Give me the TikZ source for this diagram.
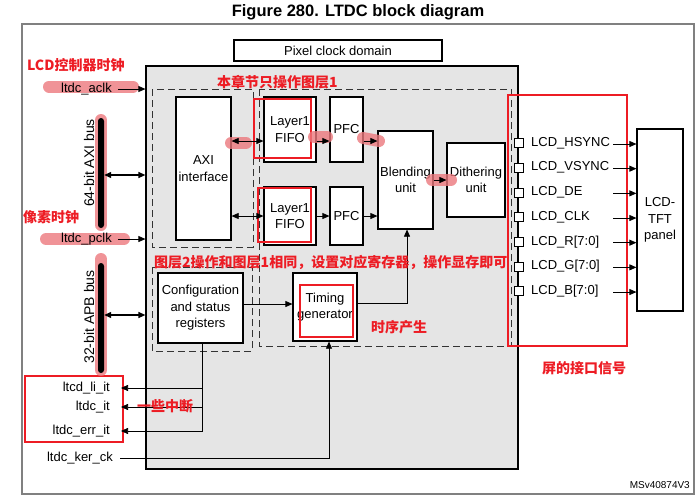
\documentclass[tikz,border=0pt]{standalone}
\usepackage{fontspec}
\setmainfont{Liberation Sans}
\newfontfamily\cjk{Noto Sans CJK SC}
\usetikzlibrary{arrows.meta}
\definecolor{redmark}{RGB}{237,28,36}
\definecolor{pinkmark}{RGB}{236,120,125}
\definecolor{blockgray}{RGB}{229,229,229}
\tikzset{
    blk/.style={draw, fill=white, line width=1.2pt, align=center, inner sep=0pt,
        font=\fontsize{13}{16.5}\selectfont},
    txt/.style={inner sep=0pt, font=\fontsize{13}{16}\selectfont},
    arr/.style={-{Triangle[length=7pt,width=6pt]}, line width=0.7pt},
    darr/.style={{Triangle[length=7pt,width=6pt]}-{Triangle[length=7pt,width=6pt]}, line width=0.7pt},
    dsh/.style={draw=black!80, dash pattern=on 7pt off 4pt, line width=1pt},
    redbox/.style={draw=redmark, line width=2.5pt},
    redtxt/.style={text=redmark, inner sep=0pt, font=\cjk\bfseries\fontsize{14}{16}\selectfont},
    hl/.style={draw=pinkmark, line width=12pt, line cap=round, opacity=0.8},
}

\begin{document}
\begin{tikzpicture}[x=1pt,y=-1pt]
    \useasboundingbox (0,0) rectangle (698,498);

    % 外枠とタイトル
    \draw [gray, line width=1.3pt] (22,24) rectangle (694,494);
    \node [font=\bfseries\fontsize{16.5}{18}\selectfont] (title) at (358,12) {Figure 280. LTDC block diagram};

    % LTDC本体
    \node [draw, fill=blockgray, line width=1.2pt, minimum width=372, minimum height=403, inner sep=0pt] (ltdc) at (332,267.5) {};
    \node [blk, minimum width=208, minimum height=21] (pixdom) at (338,50.5) {Pixel clock domain};

    % 点線の領域
    \draw [dsh] (152,89) rectangle (253,247);
    \draw [dsh] (152,267) rectangle (252,351);
    \draw [dsh] (259,89) rectangle (511,346);

    % ブロック
    \node [blk, minimum width=55, minimum height=143] (axi) at (203.5,168.5) {AXI\\interface};
    \node [blk, minimum width=52, minimum height=65] (fifoA) at (290,129.5) {Layer1\\FIFO};
    \node [blk, minimum width=52, minimum height=58] (fifoB) at (290,216) {Layer1\\FIFO};
    \node [blk, minimum width=33, minimum height=65] (pfcA) at (346.5,129.5) {PFC};
    \node [blk, minimum width=33, minimum height=58] (pfcB) at (346.5,216) {PFC};
    \node [blk, minimum width=55, minimum height=98] (blend) at (405.5,180) {Blending\\unit};
    \node [blk, minimum width=58, minimum height=74] (dither) at (476,180) {Dithering\\unit};
    \node [blk, minimum width=85, minimum height=70] (config) at (200.5,308) {Configuration\\and status\\registers};
    \node [blk, minimum width=64, minimum height=68] (timing) at (325,307) {Timing\\generator};
    \node [blk, minimum width=46, minimum height=182] (panel) at (660,220) {LCD-\\TFT\\panel};

    % 赤枠
    \draw [redbox] (254,99) rectangle (311,158);
    \draw [redbox] (258,188) rectangle (311,242);
    \draw [redbox] (300,285) rectangle (353,337);
    \draw [redbox] (508,95) rectangle (627,346);
    \draw [redbox] (25,376) rectangle (123,442);

    % ハイライト
    \draw [hl] (49,86.5) -- (133,86.5);
    \draw [hl] (46,239) -- (124,239);
    \draw [hl] (101,120) -- (101,225);
    \draw [hl] (101,259) -- (101,370);
    \draw [hl] (231,143) -- (246,143);
    \draw [hl] (314,137) -- (327,137);
    \draw [hl] (363,138) -- (379,141);
    \draw [hl] (432,180) -- (451,180);

    % バス
    \node [fill=black, minimum width=6, minimum height=110, rounded corners=3pt, inner sep=0pt] (axibus) at (101,173) {};
    \node [fill=black, minimum width=6, minimum height=110, rounded corners=3pt, inner sep=0pt] (apbbus) at (101,318) {};
    \node [txt, rotate=90, font=\fontsize{14}{16}\selectfont] (axilbl) at (89,163) {64-bit AXI bus};
    \node [txt, rotate=90, font=\fontsize{14}{16}\selectfont] (apblbl) at (89,317) {32-bit APB bus};
    \draw [darr, line width=1.2pt] (axibus.east |- 0,175) -- (ltdc.west |- 0,175);
    \draw [darr, line width=1.2pt] (apbbus.east |- 0,315) -- (ltdc.west |- 0,315);

    % クロック入力
    \node [txt, anchor=east] (aclk) at (112,89) {ltdc\_aclk};
    \node [txt, anchor=east] (pclk) at (112,239) {ltdc\_pclk};
    \node [txt, anchor=east] (kerck) at (113,458) {ltdc\_ker\_ck};
    \draw [arr] ([xshift=6pt]aclk.east) -- (aclk -| ltdc.west);
    \draw [arr] ([xshift=6pt]pclk.east) -- (pclk -| ltdc.west);
    \draw [arr] ([xshift=7pt]kerck.east) -| ([xshift=4pt]timing.south);

    % データの流れ
    \draw [darr] (axi.east |- 0,141) -- (fifoA.west |- 0,141);
    \draw [darr] (axi.east |- 0,216) -- (fifoB.west |- 0,216);
    \draw [arr] (fifoA.east |- 0,141) -- (pfcA.west |- 0,141);
    \draw [arr] (fifoB.east |- 0,216) -- (pfcB.west |- 0,216);
    \draw [arr] (pfcA.east |- 0,141) -- (blend.west |- 0,141);
    \draw [arr] (pfcB.east |- 0,216) -- (blend.west |- 0,216);
    \draw [arr] (blend) -- (dither);
    \draw [arr] (config.east |- 0,304) -- (timing.west |- 0,304);
    \draw [arr] (timing.east |- 0,303) -| ([xshift=1.5pt]blend.south);

    % 割り込み
    \draw [line width=0.7pt] ([xshift=2pt]config.south) -- (202.5,431);
    \foreach \name/\lbl/\y in {li/ltcd\_li\_it/388, it/ltdc\_it/407, err/ltdc\_err\_it/431} {
        \node [txt, anchor=east] (irq\name) at (110,\y) {\lbl};
        \draw [arr] (202.5,\y) -- ([xshift=11pt]irq\name.east);
    }

    % LCD信号（上から順に）
    \foreach \s [count=\i] in {LCD\_HSYNC, LCD\_VSYNC, LCD\_DE, LCD\_CLK, {LCD\_R[7:0]}, {LCD\_G[7:0]}, {LCD\_B[7:0]}} {
        \pgfmathsetmacro{\yy}{143 + (\i-1)*24.67}
        \node [draw, fill=white, minimum size=9, inner sep=0pt, line width=0.6pt] (pin\i) at (518.5,\yy) {};
        \node [txt, anchor=west] (sig\i) at (531,\yy) {\s};
        \coordinate (out\i) at (613,\yy+1);
        \draw [arr] (out\i) -- (out\i -| panel.west);
    }

    % 注釈
    \node [redtxt, anchor=west] (noteclk) at (27,65) {LCD控制器时钟};
    \node [redtxt, anchor=west] (notepix) at (23,217) {像素时钟};
    \node [redtxt, anchor=west] (notelay1) at (217,82) {本章节只操作图层1};
    \node [redtxt, anchor=west] (notelay2) at (154,262) {图层2操作和图层1相同，设置对应寄存器，操作显存即可};
    \node [redtxt, anchor=west] (notetim) at (371,327) {时序产生};
    \node [redtxt, anchor=west] (noteirq) at (137,406) {一些中断};
    \node [redtxt, anchor=west] (notesig) at (542,368) {屏的接口信号};

    \node [anchor=east, inner sep=0pt, font=\fontsize{10}{12}\selectfont] (msv) at (690,485) {MSv40874V3};
\end{tikzpicture}
\end{document}
